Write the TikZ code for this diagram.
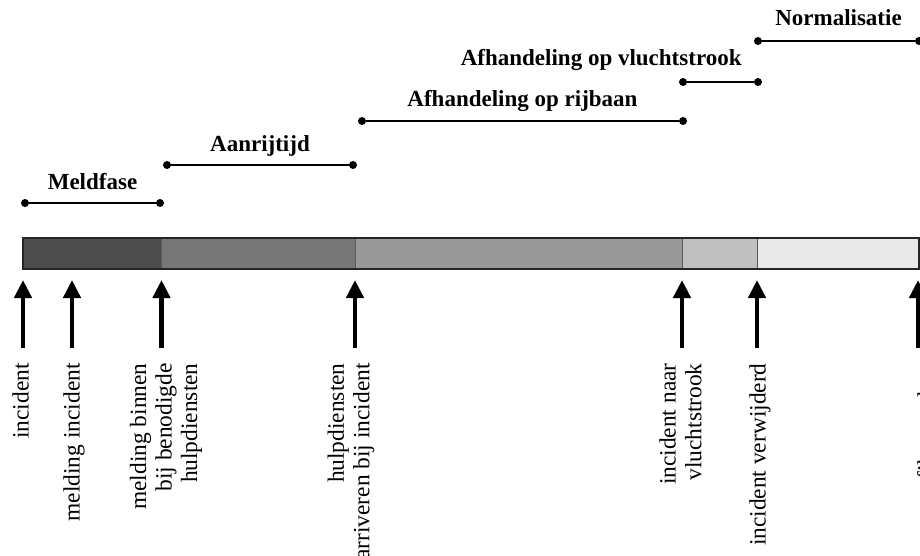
\documentclass[tikz,border=0pt]{standalone}
\usepackage{fontspec}
\setmainfont{Liberation Serif}
\usepackage{tikz}
\usetikzlibrary{arrows.meta,positioning,calc}
\definecolor{segmeld}{HTML}{4D4D4D}
\definecolor{segaanrij}{HTML}{777777}
\definecolor{segrijbaan}{HTML}{999999}
\definecolor{segvlucht}{HTML}{C0C0C0}
\definecolor{segnorm}{HTML}{E9E9E9}
\tikzset{
  dot/.style={circle, fill=black, inner sep=0pt, minimum size=4pt},
  span/.style={draw=black, line width=0.8pt},
  phase/.style={font=\fontsize{11.5}{13}\selectfont\bfseries, inner sep=0pt, anchor=base},
  event/.style={rotate=90, anchor=east, align=right, inner sep=0pt,
                font=\fontsize{11.7}{12.8}\selectfont},
  up/.style={-{Triangle[length=9pt, width=8.5pt]}, line width=2.2pt,
             shorten <=7.5pt, shorten >=5.5pt},
  seg/.style={draw=black!65, line width=0.5pt},
}
\begin{document}
\begin{tikzpicture}[x=0.5pt, y=-0.5pt]
  \useasboundingbox (0,0) rectangle (920,556);

  % tijdbalk
  \filldraw[seg, fill=segmeld] (23,238) rectangle (161,269);
  \filldraw[seg, fill=segaanrij] (161,238) rectangle (355,269);
  \filldraw[seg, fill=segrijbaan] (355,238) rectangle (682,269);
  \filldraw[seg, fill=segvlucht] (682,238) rectangle (757,269);
  \filldraw[seg, fill=segnorm] (757,238) rectangle (919,269);
  \draw[black!85, line width=0.6pt] (23,238) rectangle (919,269);

  % fasen
  \node[dot] (m1) at (25,203) {};
  \node[dot] (m2) at (160,203) {};
  \draw[span] (m1) -- (m2);
  \node[phase] (tmeld) at ($(m1)!0.5!(m2)+(0,-14)$) {Meldfase};

  \node[dot] (a1) at (167,165) {};
  \node[dot] (a2) at (353,165) {};
  \draw[span] (a1) -- (a2);
  \node[phase] (taanrij) at ($(a1)!0.5!(a2)+(0,-14)$) {Aanrijtijd};

  \node[dot] (r1) at (362,121) {};
  \node[dot] (r2) at (683,121) {};
  \draw[span] (r1) -- (r2);
  \node[phase] (trijbaan) at ($(r1)!0.5!(r2)+(0,-15)$) {Afhandeling op rijbaan};

  \node[dot] (v1) at (683,82) {};
  \node[dot] (v2) at (758,82) {};
  \draw[span] (v1) -- (v2);
  \node[phase, anchor=base east] (tvlucht) at ($(v2)+(-16,-16)$) {Afhandeling op vluchtstrook};

  \node[dot] (n1) at (758,41) {};
  \node[dot] (n2) at (919,41) {};
  \draw[span] (n1) -- (n2);
  \node[phase] (tnorm) at ($(n1)!0.5!(n2)+(0,-15)$) {Normalisatie};

  % gebeurtenissen
  \node[event] (lincident) at (20.5,363) {incident};
  \node[event] (lmelding) at (74,363) {melding incident};
  \node[event] (lbinnen) at (166,363) {melding binnen\\bij benodigde\\hulpdiensten};
  \node[event] (larrive) at (351,363) {hulpdiensten\\arriveren bij incident};
  \node[event] (lnaar) at (680.5,363) {incident naar\\vluchtstrook};
  \node[event] (lweg) at (760,363) {incident verwijderd};
  \node[event] (lfile) at (928,363) {file opgelost};

  \coordinate (e1) at (23,269);
  \coordinate (e2) at (72,269);
  \coordinate (e3) at (161.5,269);
  \coordinate (e4) at (355,269);
  \coordinate (e5) at (682,269);
  \coordinate (e6) at (757,269);
  \coordinate (e7) at (918,269);

  \draw[up] (lincident.east -| e1) -- (e1);
  \draw[up] (lmelding.east -| e2) -- (e2);
  \draw[up] (lbinnen.east -| e3) -- (e3);
  \draw[up] (larrive.east -| e4) -- (e4);
  \draw[up] (lnaar.east -| e5) -- (e5);
  \draw[up] (lweg.east -| e6) -- (e6);
  \draw[up] (lfile.east -| e7) -- (e7);
\end{tikzpicture}
\end{document}
